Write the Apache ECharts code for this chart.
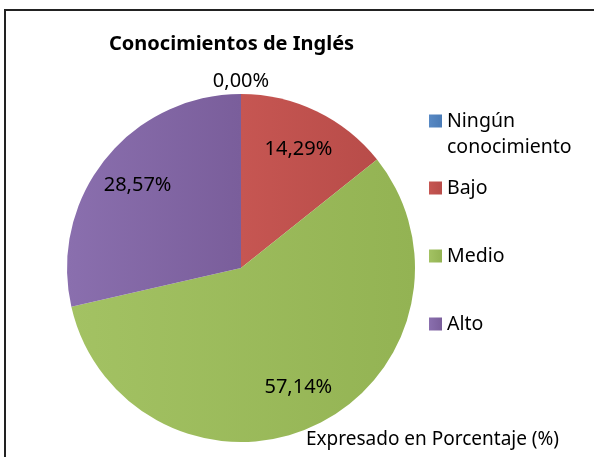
<!DOCTYPE html>
<html>
<head>
<meta charset="utf-8">
<style type="text/css">
html, body{margin: 0; padding: 0; background: #fff}
#chart{width: 594px; height: 457px}
</style>
<script src="https://cdn.jsdelivr.net/npm/echarts@6/dist/echarts.min.js"></script>
</head>
<body>
<div id="chart"></div>
<script type="text/javascript">
// datos del grafico
var categorias = ['Ningún conocimiento', 'Bajo', 'Medio', 'Alto'];
var porcentajes = [0, 14.29, 57.14, 28.57];
var colores = [
    ['#5889c4', '#4a7bb6'],
    ['#c65652', '#b84c49'],
    ['#a3c263', '#93b353'],
    ['#8a6fae', '#7a5e9b']
];

var CX = 241, CY = 268, R = 174;
var font = '"Noto Sans", "DejaVu Sans", sans-serif';

function pct(v){
    return v.toFixed(2).replace('.', ',') + '%';
}

var datos = categorias.map(function(n, i){
    return {
        name: n,
        value: porcentajes[i],
        itemStyle: {
            color: new echarts.graphic.LinearGradient(0, 0, 1, 0, [
                {offset: 0, color: colores[i][0]},
                {offset: 1, color: colores[i][1]}
            ])
        }
    };
});

var total = porcentajes.reduce(function(a, b){ return a + b; }, 0);

// una leyenda por elemento, para poder colocarlas como en el original
var leyendaCentro = [121, 188, 256, 324];
var leyendas = categorias.map(function(n, i){
    var lineas = i === 0 ? 3 : 1;
    return {
        orient: 'vertical',
        left: 429,
        top: leyendaCentro[i] - lineas * 13,
        padding: 0,
        itemWidth: 13,
        itemHeight: 13,
        itemGap: 0,
        icon: 'rect',
        data: [n],
        formatter: function(name){
            return name === 'Ningún conocimiento' ? ' \nNingún\nconocimiento' : name;
        },
        textStyle: {fontFamily: font, fontSize: 19.5, color: '#000', lineHeight: 26, padding: [0, 0, 0, 0]}
    };
});

var chart = echarts.init(document.getElementById('chart'));
var option = {
    animation: false,
    title: [
        {
            text: 'Conocimientos de Inglés',
            left: 109,
            top: 34,
            padding: 0,
            textStyle: {fontFamily: font, fontSize: 20, fontWeight: 'bold', color: '#000'}
        },
        {
            text: 'Expresado en Porcentaje (%)',
            left: 306,
            top: 430,
            padding: 0,
            textStyle: {fontFamily: font, fontSize: 19, fontWeight: 'normal', color: '#000'}
        }
    ],
    legend: leyendas,
    graphic: [{
        type: 'rect',
        shape: {x: 5, y: 10, width: 640, height: 500},
        style: {fill: 'none', stroke: '#222', lineWidth: 2},
        silent: true
    }],
    series: [{
        type: 'pie',
        center: [CX, CY],
        radius: R,
        startAngle: 90,
        clockwise: true,
        avoidLabelOverlap: false,
        itemStyle: {borderWidth: 0},
        label: {
            show: true,
            position: 'inside',
            fontFamily: font,
            fontSize: 20,
            color: '#000',
            formatter: function(p){ return pct(p.value); }
        },
        labelLine: {show: false},
        emphasis: {scale: false},
        labelLayout: function(p){
            var i = p.dataIndex;
            var antes = 0;
            for (var k = 0; k < i; k++) antes += porcentajes[k];
            var medio = (antes + porcentajes[i] / 2) / total;
            var ang = (90 - medio * 360) * Math.PI / 180;
            var r = porcentajes[i] === 0 ? R + 13 : R * 0.76;
            return {
                x: CX + r * Math.cos(ang),
                y: CY - r * Math.sin(ang),
                align: 'center',
                verticalAlign: 'middle'
            };
        },
        data: datos
    }]
};
chart.setOption(option);
</script>
</body>
</html>
